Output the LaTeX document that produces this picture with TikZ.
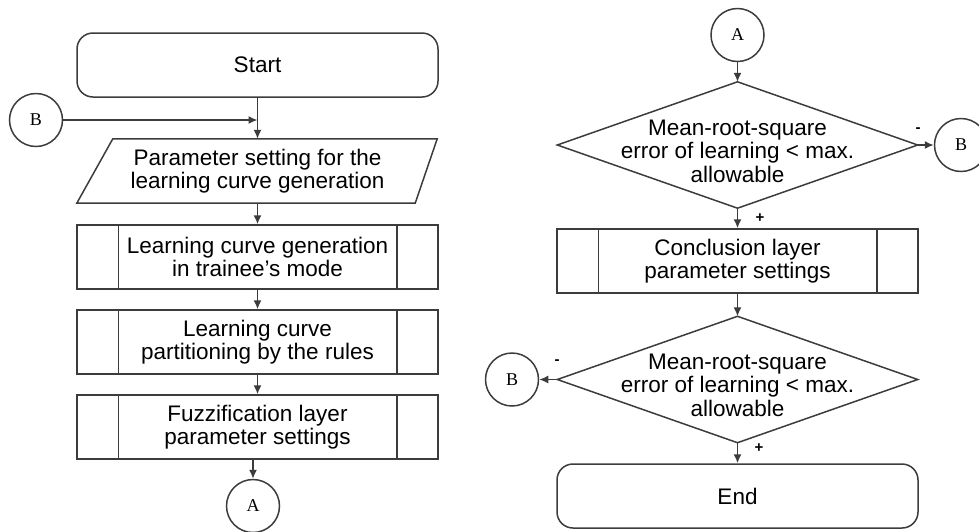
\documentclass[tikz,border=0pt]{standalone}
\usepackage{fontspec}
\setmainfont{Liberation Sans}
\newfontfamily\seriffam{Liberation Serif}
\usetikzlibrary{arrows.meta,calc}
\definecolor{linegray}{RGB}{60,60,60}
\begin{document}
\begin{tikzpicture}[x=1pt,y=-1pt,
  ln/.style={draw=linegray, line width=1.5pt},
  arr/.style={ln, -{Latex[length=9pt,width=8pt]}},
  txt/.style={font=\fontsize{22.5}{23.5}\selectfont, align=center, inner sep=0pt},
  terminal/.style={txt, ln, rounded corners=16pt, minimum width=361pt, minimum height=64pt},
  procbox/.style={txt, ln, minimum width=361pt, minimum height=64pt},
  plainbox/.style={txt, minimum width=361pt, minimum height=64pt},
  decbox/.style={minimum width=360pt, minimum height=126pt, inner sep=0pt},
  conn/.style={ln, circle, minimum size=53pt, inner sep=0pt, font=\seriffam\fontsize{18}{18}\selectfont},
  sign/.style={font=\bfseries\fontsize{15}{15}\selectfont, inner sep=0pt}
]
\useasboundingbox (0,0) rectangle (979,531);

% ---------- left column ----------
\node[terminal] (start) at (257.5,65) {Start};
\node[conn] (bL) at (36,120) {B};
\node[plainbox] (param) at (257.5,171) {Parameter setting for the\\learning curve generation};
\draw[ln] ($(param.north west)+(36,0)$) -- ($(param.north east)+(-1,0)$)
  -- ($(param.south east)+(-23,0)$) -- (param.south west) -- cycle;
\node[procbox] (gen) at (257.5,257) {Learning curve generation\\in trainee’s mode};
\node[procbox] (part) at (257.5,342) {Learning curve\\partitioning by the rules};
\node[procbox] (fuzz) at (257.5,427) {Fuzzification layer\\parameter settings};
\node[conn] (A1) at (253,506) {A};

% ---------- right column ----------
\node[conn] (A2) at (737.5,35) {A};
\node[decbox] (d1) at (737.5,145) {};
\draw[ln] (d1.north) -- (d1.east) -- (d1.south) -- (d1.west) -- cycle;
\node[txt] (d1t) at (737.5,151) {Mean-root-square\\error of learning < max.\\allowable};
\node[conn] (B2) at (961,145) {B};
\node[procbox] (conc) at (737.5,261) {Conclusion layer\\parameter settings};
\node[decbox] (d2) at (737.5,379.5) {};
\draw[ln] (d2.north) -- (d2.east) -- (d2.south) -- (d2.west) -- cycle;
\node[txt] (d2t) at (737.5,385) {Mean-root-square\\error of learning < max.\\allowable};
\node[conn] (B3) at (512,379.5) {B};
\node[terminal] (endn) at (737.5,496) {End};

% inner lines of predefined processes
\foreach \n in {gen,part,fuzz,conc}{
  \draw[ln] ($(\n.north west)+(42,0)$) -- ($(\n.south west)+(42,0)$);
  \draw[ln] ($(\n.north east)+(-42,0)$) -- ($(\n.south east)+(-42,0)$);
}

% ---------- connectors ----------
\draw[arr] (start.south) -- (param.north);
\coordinate (joinB) at (start.south |- bL);
\draw[arr] (bL.east) -- (joinB);
\draw[arr] (param.south) -- (gen.north);
\draw[arr] (gen.south) -- (part.north);
\draw[arr] (part.south) -- (fuzz.north);
\draw[arr] (A1 |- fuzz.south) -- (A1.north);

\draw[arr] (A2.south) -- (d1.north);
\draw[arr] (d1.east) -- (B2.west);
\draw[arr] (d1.south) -- (conc.north);
\draw[arr] (conc.south) -- (d2.north);
\draw[arr] (d2.west) -- (B3.east);
\draw[arr] (d2.south) -- (endn.north);

% ---------- labels ----------
\node[sign] (m1) at (918,130) {-};
\node[sign] (p1) at (760,218) {+};
\node[sign] (m2) at (557,362) {-};
\node[sign] (p2) at (759,448) {+};
\end{tikzpicture}
\end{document}
